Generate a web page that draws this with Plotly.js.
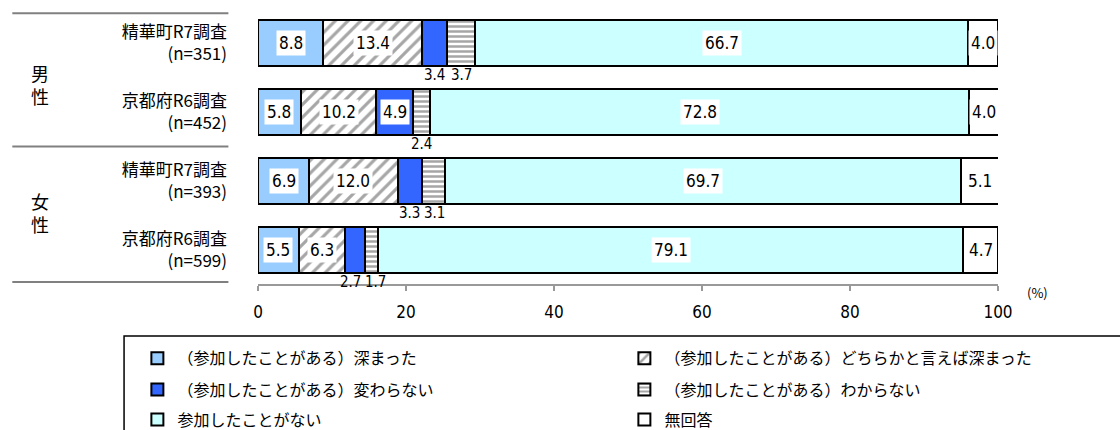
<!DOCTYPE html>
<html>
<head>
<meta charset="utf-8">
<script src="https://cdn.plot.ly/plotly-3.0.1.min.js"></script>
<style>
  body { margin: 0; background: #fff; }
  #chart { width: 1120px; height: 430px; }
</style>
</head>
<body>
<div id="chart"></div>
<script>
var categories = ['精華町R7調査<br>(n=351)', '京都府R6調査<br>(n=452)',
    '精華町R7調査<br>(n=393)', '京都府R6調査<br>(n=599)'];

var seriesNames = ['（参加したことがある）深まった',
    '（参加したことがある）どちらかと言えば深まった',
    '（参加したことがある）変わらない',
    '（参加したことがある）わからない',
    '参加したことがない',
    '無回答'];

var fukamatta = [8.8, 5.8, 6.9, 5.5];
var dochiraka = [13.4, 10.2, 12.0, 6.3];
var kawaranai = [3.4, 4.9, 3.3, 2.7];
var wakaranai = [3.7, 2.4, 3.1, 1.7];
var nai = [66.7, 72.8, 69.7, 79.1];
var mukaitou = [4.0, 4.0, 5.1, 4.7];

var allSeries = [fukamatta, dochiraka, kawaranai, wakaranai, nai, mukaitou];

var fills = [
    {color: '#99ccff'},
    {color: 'white', pattern: {shape: '/', fgcolor: '#a6a6a6', bgcolor: 'white', size: 9, solidity: 0.35}},
    {color: '#3366ff'},
    {color: 'white', pattern: {shape: '-', fgcolor: '#a6a6a6', bgcolor: 'white', size: 5, solidity: 0.5}},
    {color: '#ccffff'},
    {color: 'white'}
];
// each legend row is its own legend so the rows can be spaced like the original
var legendIds = ['legend', 'legend', 'legend2', 'legend2', 'legend3', 'legend3'];

var jpFont = 'Noto Sans CJK JP, sans-serif';
var numFont = {family: 'DejaVu Sans Condensed, Noto Sans CJK JP, sans-serif', size: 17, color: '#000'};
var smallFont = {family: 'DejaVu Sans Condensed, Noto Sans CJK JP, sans-serif', size: 15, color: '#000'};

var data = [];
for (var s = 0; s < allSeries.length; s++) {
    var marker = {color: fills[s].color, line: {color: '#000', width: 2}};
    if (fills[s].pattern) marker.pattern = fills[s].pattern;
    data.push({
        type: 'bar',
        orientation: 'h',
        name: seriesNames[s],
        legend: legendIds[s],
        x: allSeries[s],
        y: [0, 1, 2, 3],
        marker: marker,
        hoverinfo: 'skip'
    });
}

// value labels: inside with white box, small ones under the bar
var pxPerUnit = 7.4;
var annotations = [];
for (var i = 0; i < categories.length; i++) {
    var cum = 0;
    var prevSmall = null;
    for (var s = 0; s < allSeries.length; s++) {
        var v = allSeries[s][i];
        var mid = cum + v / 2;
        cum += v;
        if (v < 4) {
            var ann = {x: mid, y: i, xref: 'x', yref: 'y', text: v.toFixed(1),
                showarrow: false, yshift: -32, font: smallFont};
            if (prevSmall) {
                var gap = (mid - prevSmall.x) * pxPerUnit;
                if (gap < 25) {
                    var push = (25 - gap) / 2;
                    prevSmall.xshift = -push;
                    ann.xshift = push;
                }
            }
            annotations.push(ann);
            prevSmall = ann;
        } else {
            annotations.push({x: mid, y: i, xref: 'x', yref: 'y', text: v.toFixed(1),
                showarrow: false, bgcolor: 'white', borderpad: 2, font: numFont});
            prevSmall = null;
        }
    }
}

annotations.push({x: -0.295, y: 0.6, xref: 'paper', yref: 'y', text: '男<br>性', showarrow: false,
    xanchor: 'center', font: {family: jpFont, size: 18, color: '#000'}});
annotations.push({x: -0.295, y: 2.46, xref: 'paper', yref: 'y', text: '女<br>性', showarrow: false,
    xanchor: 'center', font: {family: jpFont, size: 18, color: '#000'}});
annotations.push({x: 1.054, y: -0.03, xref: 'paper', yref: 'paper', text: '(%)', showarrow: false,
    xanchor: 'center', yanchor: 'middle', font: {family: jpFont, size: 13, color: '#000'}});

var sepLine = {color: '#808080', width: 2};
var shapes = [-0.44, 1.5, 3.47].map(function (yy) {
    return {type: 'line', xref: 'paper', yref: 'y', x0: -0.332, x1: -0.04, y0: yy, y1: yy, line: sepLine};
});
// legend frame
shapes.push({type: 'rect', xref: 'paper', yref: 'paper', x0: -0.181, x1: 1.3, y0: -0.189, y1: -0.7,
    line: {color: '#000', width: 1.5}, fillcolor: 'rgba(0,0,0,0)'});

function legendRow(yPaper) {
    return {
        orientation: 'h',
        x: -0.163, xanchor: 'left',
        y: yPaper, yanchor: 'middle',
        entrywidth: 442, entrywidthmode: 'pixels',
        traceorder: 'normal',
        borderwidth: 0, bgcolor: 'rgba(0,0,0,0)',
        font: {family: jpFont, size: 16, color: '#000'}
    };
}

var layout = {
    width: 1120,
    height: 430,
    margin: {l: 258, r: 122, t: 9, b: 146, autoexpand: false},
    paper_bgcolor: 'white',
    plot_bgcolor: 'white',
    barmode: 'stack',
    bargap: 0.33,
    font: {family: jpFont, color: '#000'},
    showlegend: true,
    legend: legendRow(-0.27),
    legend2: legendRow(-0.384),
    legend3: legendRow(-0.493),
    xaxis: {
        range: [0, 100],
        tickvals: [0, 20, 40, 60, 80, 100],
        showgrid: false, zeroline: false,
        showline: true, linecolor: '#999', linewidth: 2,
        ticks: 'outside', ticklen: 5, tickwidth: 2, tickcolor: '#999',
        ticklabelstandoff: 7,
        tickfont: {family: 'DejaVu Sans Condensed, sans-serif', size: 17, color: '#000'},
        fixedrange: true
    },
    yaxis: {
        range: [3.5, -0.5],
        tickvals: [0, 1, 2, 3],
        ticktext: categories,
        showgrid: false, zeroline: false, showline: false,
        ticks: '', ticklabelstandoff: 30,
        tickfont: {family: jpFont, size: 17, color: '#000'},
        fixedrange: true
    },
    annotations: annotations,
    shapes: shapes
};

Plotly.newPlot('chart', data, layout, {displayModeBar: false, staticPlot: true});
</script>
</body>
</html>
